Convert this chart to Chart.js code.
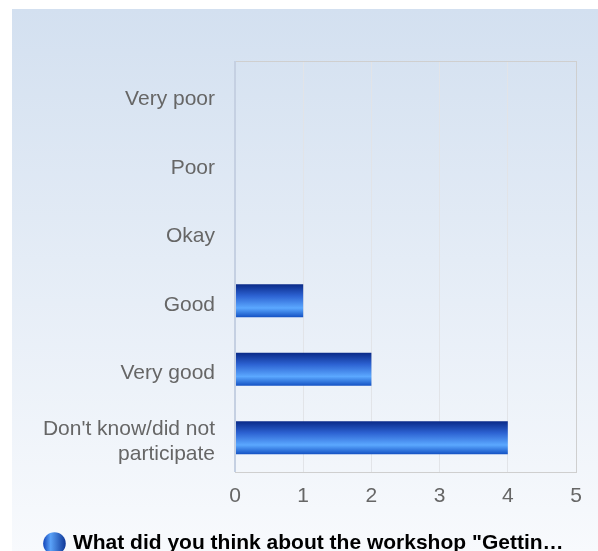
<!DOCTYPE html>
<html>
<head>
<meta charset="utf-8">
<script src="https://cdn.jsdelivr.net/npm/chart.js@4"></script>
<style>
  html, body { margin: 0; padding: 0; background: #fff; overflow: hidden; }
  #box {
    position: absolute; left: 12px; top: 9px; width: 586px; height: 555px;
    background: linear-gradient(to bottom, #d3e0f0 0%, #f8fafd 98%);
  }
  canvas { display: block; }
</style>
</head>
<body>
<div id="box"><canvas id="chart" width="586" height="555"></canvas></div>
<script>
// Answers and counts
const categories = ['Very poor', 'Poor', 'Okay', 'Good', 'Very good', ["Don't know/did not", 'participate']];
const counts = [0, 0, 0, 1, 2, 4];
const xTicks = [0, 1, 2, 3, 4, 5];
const seriesLabel = 'What did you think about the workshop "Gettin\u2026';

const FONT = 'Liberation Sans, Arial, sans-serif';

// vertical shine on each bar, worked out from the y scale
function barGradient(context) {
  const chart = context.chart;
  const y = chart.scales.y;
  if (!y || context.dataIndex === undefined) return '#2a6ad8';
  const center = y.getPixelForValue(context.dataIndex);
  const half = (y.height / categories.length) * 0.48 / 2;
  const g = chart.ctx.createLinearGradient(0, center - half, 0, center + half);
  g.addColorStop(0, '#0a2a88');
  g.addColorStop(0.35, '#2c62d2');
  g.addColorStop(0.72, '#5ba8ff');
  g.addColorStop(1, '#1452c4');
  return g;
}

// plot frame: gray box, bluish left axis
const frame = {
  id: 'frame',
  afterDraw(chart) {
    const a = chart.chartArea;
    const ctx = chart.ctx;
    ctx.save();
    ctx.strokeStyle = '#cfcfcf';
    ctx.lineWidth = 1;
    ctx.strokeRect(a.left + 0.5, a.top + 0.5, a.right - a.left, a.bottom - a.top);
    ctx.strokeStyle = '#c5d0e2';
    ctx.lineWidth = 2;
    ctx.beginPath();
    ctx.moveTo(a.left, a.top);
    ctx.lineTo(a.left, a.bottom);
    ctx.stroke();
    ctx.restore();
  }
};

const ctx = document.getElementById('chart').getContext('2d');
const legendIcon = ctx.createLinearGradient(32, 0, 54, 0);
legendIcon.addColorStop(0, '#1a4fc0');
legendIcon.addColorStop(0.3, '#5aa2f8');
legendIcon.addColorStop(1, '#0d3596');

new Chart(ctx, {
  type: 'bar',
  data: {
    labels: categories,
    datasets: [{
      label: seriesLabel,
      data: counts,
      backgroundColor: barGradient,
      borderWidth: 0,
      categoryPercentage: 1,
      barPercentage: 0.48
    }]
  },
  options: {
    indexAxis: 'y',
    responsive: false,
    animation: false,
    layout: { padding: { top: 52, right: 22, left: 22, bottom: 0 } },
    scales: {
      x: {
        min: 0,
        max: 5,
        afterBuildTicks: scale => { scale.ticks = xTicks.map(v => ({ value: v })); },
        afterFit: scale => { scale.height = 51; },
        grid: { color: '#e2e4e8', drawTicks: false },
        border: { color: '#cfcfcf' },
        ticks: { color: '#666', font: { family: FONT, size: 21 }, padding: 12 }
      },
      y: {
        grid: { display: false, drawTicks: false },
        border: { display: false },
        afterFit: scale => { scale.width = 201; },
        ticks: { color: '#666', font: { family: FONT, size: 21 }, padding: 20, labelOffset: 4 }
      }
    },
    plugins: {
      tooltip: { enabled: false },
      legend: {
        position: 'bottom',
        labels: {
          usePointStyle: true,
          pointStyle: 'circle',
          boxWidth: 16,
          boxHeight: 16,
          padding: 10,
          color: '#333',
          font: { family: FONT, size: 21, weight: 'bold' },
          generateLabels: chart => [{
            text: seriesLabel,
            fillStyle: legendIcon,
            strokeStyle: legendIcon,
            lineWidth: 0,
            pointStyle: 'circle',
            datasetIndex: 0
          }]
        }
      }
    }
  },
  plugins: [frame]
});
</script>
</body>
</html>
